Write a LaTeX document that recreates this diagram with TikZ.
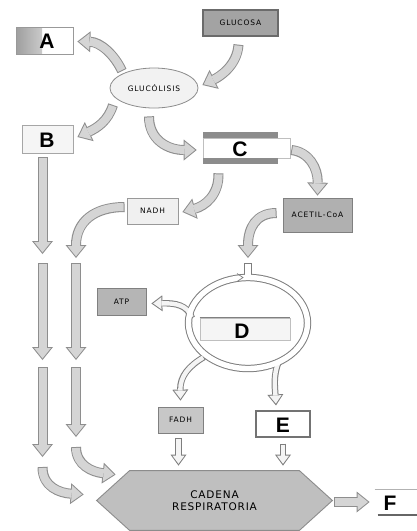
\documentclass[tikz,border=0pt]{standalone}
\usepackage{fontspec}
\setmainfont{Liberation Sans}
\newfontfamily\lblfont[LetterSpace=12]{DejaVu Sans}
\newfontfamily\hexfont[LetterSpace=8]{DejaVu Sans}
\usetikzlibrary{arrows.meta,calc,shapes.geometric}
\definecolor{aedge}{HTML}{8E8E8E}
\definecolor{tedge}{HTML}{7E7E7E}
\definecolor{afill}{HTML}{D5D5D5}
\definecolor{tfill}{HTML}{F4F4F4}
\definecolor{bandc}{HTML}{8C8C8C}
\newcommand\bigarrow[1]{\draw[bigO] #1; \draw[bigI] #1;}
\newcommand\thinarrow[1]{\draw[thO] #1; \draw[thI] #1;}
\begin{document}
\begin{tikzpicture}[x=1pt,y=-1pt,
  bigO/.style={draw=aedge, line width=10pt, -{Triangle[length=13pt,width=21pt,line width=0pt]}, aedge},
  bigI/.style={draw=afill, line width=8pt, shorten >=1.6pt, shorten <=1pt, -{Triangle[length=10.4pt,width=16.8pt,line width=0pt]}, afill},
  thO/.style={draw=tedge, line width=6.4pt, -{Triangle[length=11pt,width=16pt,line width=0pt]}, tedge},
  thI/.style={draw=tfill, line width=4.4pt, shorten >=1.8pt, shorten <=1pt, -{Triangle[length=8.2pt,width=12.2pt,line width=0pt]}, tfill},
  box/.style={rectangle, inner sep=0pt, line width=0.8pt},
  lbl/.style={font=\lblfont\fontsize{7.5}{8}\selectfont},
  letter/.style={inner sep=0pt, font=\fontsize{21}{21}\selectfont\bfseries},
]
\fill[white] (0,0) rectangle (417,531);
\useasboundingbox (0,0) rectangle (417,531);

% ---------- nodes ----------
\node[box, draw=black!58, fill=black!36, line width=1.3pt, minimum width=75pt, minimum height=26pt, lbl] (glucosa) at (240.5,23) {GLUCOSA};
\node[ellipse, draw=black!45, fill=black!5, line width=0.8pt, minimum width=88pt, minimum height=40pt, inner sep=0pt, lbl] (gluc) at (154,88) {GLUC\'OLISIS};
\node[box, draw=black!40, fill=white, minimum width=57pt, minimum height=27pt,
  path picture={\shade[left color=black!38, right color=white] (path picture bounding box.south west) rectangle ([xshift=26pt]path picture bounding box.north west);}] (A) at (44.5,40.5) {};
\node[letter] (Atxt) at (47,41) {A};
\node[box, draw=black!35, fill=black!4, minimum width=51pt, minimum height=28pt] (B) at (47.5,139) {};
\node[letter] (Btxt) at (47,140) {B};
\node[box, draw=black!25, fill=white, line width=0.6pt, minimum width=87pt, minimum height=20pt] (C) at (246.5,148) {};
\fill[bandc] ($(C.north west)+(0,-6)$) rectangle ($(C.north west)+(75,0)$);
\fill[bandc] ($(C.south west)+(0,0)$) rectangle ($(C.south west)+(75,6)$);
\node[letter] (Ctxt) at (240,149) {C};
\node[box, draw=black!40, fill=black!6, minimum width=51pt, minimum height=26pt, lbl] (nadh) at (152.5,211) {NADH};
\node[box, draw=black!50, fill=black!31, minimum width=69pt, minimum height=34pt, lbl] (acetil) at (317.5,215) {ACETIL-CoA};
\node[box, draw=black!50, fill=black!29, minimum width=49pt, minimum height=27pt, lbl] (atp) at (121.5,301.5) {ATP};
\node[box, draw=black!50, fill=black!22, minimum width=45pt, minimum height=26pt, lbl] (fadh) at (180.5,420) {FADH};
\node[box, draw=black!55, fill=white, line width=1.1pt, minimum width=54pt, minimum height=26pt] (E) at (283,424) {};
\node[letter] (Etxt) at (283,425) {E};
\node[box, minimum width=42pt, minimum height=25pt] (F) at (396,502) {};
\draw[black!30, line width=0.6pt] (F.north west) -- (F.north east);
\draw[black!60, line width=1.2pt] ($(F.south west)+(3,0)$) -- (F.south east);
\node[letter] (Ftxt) at (390,503) {F};
\coordinate (ring) at (248,323);

% ---------- hexagon ----------
\node[box, minimum width=235pt, minimum height=59pt] (hex) at (214.5,500.5) {};
\draw[draw=black!45, fill=black!25, line width=0.9pt] (hex.west) -- ($(hex.north west)+(33,0)$) -- ($(hex.north east)+(-33,0)$) -- (hex.east) -- ($(hex.south east)+(-33,0)$) -- ($(hex.south west)+(33,0)$) -- cycle;
\node[align=center, font=\hexfont\fontsize{10.5}{12.5}\selectfont] (hextxt) at (hex) {CADENA\\RESPIRATORIA};

% ---------- free ends ----------
\coordinate (c1) at (42.5,254);
\coordinate (c2) at (76,258);
\coordinate (c3) at (42.5,263);
\coordinate (c4) at (42.5,360);
\coordinate (c5) at (76,263);
\coordinate (c6) at (76,360);
\coordinate (c7) at (42.5,367);
\coordinate (c8) at (42.5,457);
\coordinate (c9) at (76,367);
\coordinate (c10) at (76,437);
\coordinate (c11) at (42.5,467);
\coordinate (c12) at (76,447);

% ---------- big arrows ----------
\bigarrow{($(glucosa.south)+(-2,8)$) .. controls (237,66) and (219,77) .. ($(gluc.east)+(4,-3)$)}
\bigarrow{(122,71) .. controls (114,54) and (100,42) .. ($(A.east)+(4,1)$)}
\bigarrow{(113,105) .. controls (108,121) and (97,128) .. ($(B.east)+(4,-2)$)}
\bigarrow{($(gluc.south)+(-5,8)$) .. controls (149,140) and (168,150) .. ($(C.west)+(-6,2)$)}
\bigarrow{($(C.east)+(1,2)$) .. controls (309,152) and (318,168) .. ($(acetil.north)+(0,-2)$)}
\bigarrow{($(C.south)+(-28,15)$) .. controls (219,195) and (205,206) .. ($(nadh.east)+(4,1)$)}
\bigarrow{($(acetil.west)+(-6,-2)$) .. controls (256,213) and (248,228) .. ($(ring)+(0,-65)$)}
\bigarrow{($(B.south)+(-5,4)$) -- (c1)}
\bigarrow{($(nadh.west)+(-2,-4)$) .. controls (94,207) and (76,222) .. (c2)}
\bigarrow{(c3) -- (c4)}
\bigarrow{(c5) -- (c6)}
\bigarrow{(c7) -- (c8)}
\bigarrow{(c9) -- (c10)}
\bigarrow{(c11) .. controls (42.5,487) and (60,493) .. ($(hex.west)+(-13,-6)$)}
\bigarrow{(c12) .. controls (76,465) and (92,472) .. ($(hex.north west)+(19,4)$)}
\bigarrow{($(hex.east)+(2,1.5)$) -- ($(F.west)+(-5,0)$)}

% ---------- Krebs ring ----------
\draw[tedge, line width=7.4pt] (ring) ellipse [x radius=59.5pt, y radius=45.5pt];
\draw[tedge, line width=7.4pt] ($(ring)+(0,-60)$) -- ($(ring)+(0,-44)$);
\thinarrow{($(ring)+(-56,-5)$) .. controls (187,305) and (176,303) .. ($(atp.east)+(5,2)$)}
\thinarrow{($(ring)+(-44,34)$) .. controls (189,366) and (180,376) .. ($(fadh.north)+(0,-6)$)}
\thinarrow{($(ring)+(31,38)$) .. controls (273,375) and (275,388) .. ($(E.north)+(-7,-5)$)}
\draw[white, line width=5.4pt] (ring) ellipse [x radius=59.5pt, y radius=45.5pt];
\draw[white, line width=5.4pt] ($(ring)+(0,-59)$) -- ($(ring)+(0,-44)$);
\draw[tedge, line width=0.7pt] (237,273.5) -- (243,277.5) -- (237,281.5);

% ---------- D box ----------
\node[box, draw=black!25, fill=black!4, line width=0.6pt, minimum width=90pt, minimum height=22pt] (D) at (245,329) {};
\draw[black!50, line width=0.7pt] (D.north west) -- (D.north east);
\node[letter] (Dtxt) at (242,331) {D};

% ---------- small arrows ----------
\thinarrow{($(fadh.south)+(-2,5)$) -- ($(hex.north)+(-36,-5)$)}
\thinarrow{($(E.south)+(0,6)$) -- ($(hex.north)+(68.5,-5)$)}
\end{tikzpicture}
\end{document}
